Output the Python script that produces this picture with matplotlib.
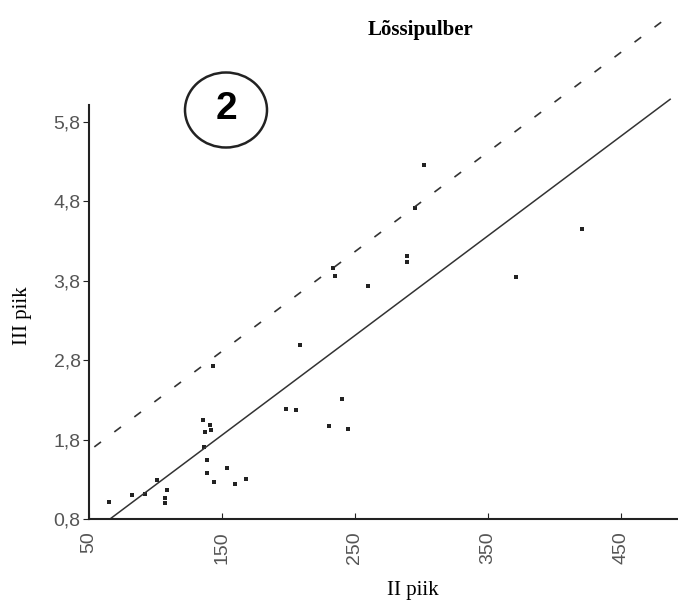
import matplotlib
matplotlib.use("Agg")
from matplotlib import pyplot as plt
from matplotlib.patches import Ellipse
import numpy as np

# points (II piik vs III piik)
ii_piik = [65, 82, 92, 101, 109, 107, 107,
           136, 141, 142, 137, 136.5, 139, 139, 144, 153.5, 160, 168,
           143.5, 208.6, 198, 205.4, 240.5, 230.5, 244.5,
           302, 295, 289, 289, 260, 233.7, 235, 420.4, 371]
iii_piik = [1.02, 1.10, 1.11, 1.29, 1.17, 1.07, 1.00,
            2.04, 1.98, 1.92, 1.89, 1.71, 1.54, 1.38, 1.26, 1.44, 1.24, 1.30,
            2.72, 2.99, 2.19, 2.17, 2.31, 1.97, 1.93,
            5.25, 4.71, 4.11, 4.03, 3.73, 3.96, 3.86, 4.45, 3.84]

# regression line and upper bound
slope = 0.01254
intercept = -0.025
upper_intercept = 1.03
line_x = [65.8, 487]
upper_x = [54, 487]

x_ticks = [50, 150, 250, 350, 450]
y_ticks = [0.8, 1.8, 2.8, 3.8, 4.8, 5.8]
y_ticklabels = ["0,8", "1,8", "2,8", "3,8", "4,8", "5,8"]

W, H = 678, 607
fig = plt.figure(figsize=(W / 100, H / 100), dpi=100)
ax = fig.add_axes([89 / W, 88 / H, 1 - 89 / W, 414 / H])

ax.set_xlim(50, 492.9)
ax.set_ylim(0.8, 6.01)

lx = np.array(line_x)
ux = np.array(upper_x)
ax.plot(lx, slope * lx + intercept, color="#333333", lw=1.1, clip_on=False)
ax.plot(ux, slope * ux + upper_intercept, color="#333333", lw=1.2,
        dashes=(5, 10), clip_on=False)
ax.scatter(ii_piik, iii_piik, s=5, marker="s", color="#222222", lw=0)

for side in ["top", "right"]:
    ax.spines[side].set_visible(False)
for side in ["left", "bottom"]:
    ax.spines[side].set_linewidth(1.5)
    ax.spines[side].set_color("#222222")

ax.set_xticks(x_ticks)
ax.set_xticklabels([str(v) for v in x_ticks], rotation=90, va="top")
ax.set_yticks(y_ticks)
ax.set_yticklabels(y_ticklabels)
ax.tick_params(axis="x", direction="in", length=4, pad=9, labelsize=14,
               labelcolor="#555555", color="#222222")
ax.tick_params(axis="y", direction="out", length=4, pad=2, labelsize=14,
               labelcolor="#555555", color="#222222")
for lab in ax.get_xticklabels() + ax.get_yticklabels():
    lab.set_family("Liberation Sans")

fig.text(421 / W, 1 - 30 / H, "Lõssipulber", ha="center", va="center",
         family="Liberation Serif", fontweight="bold", fontsize=15)
fig.text(413 / W, 1 - 591 / H, "II piik", ha="center", va="center",
         family="Liberation Serif", fontsize=15)
fig.text(22 / W, 1 - 316 / H, "III piik", ha="center", va="center",
         rotation=90, family="Liberation Serif", fontsize=15)

# circled panel number
fig.add_artist(Ellipse((226 / W, 1 - 110 / H), 82 / W, 75 / H,
                       transform=fig.transFigure, fill=False, lw=1.8,
                       color="#222222"))
fig.text(226 / W, 1 - 109 / H, "2", ha="center", va="center",
         family="Liberation Sans", fontweight="black", fontsize=28)

fig.savefig("out.png", dpi=100)
